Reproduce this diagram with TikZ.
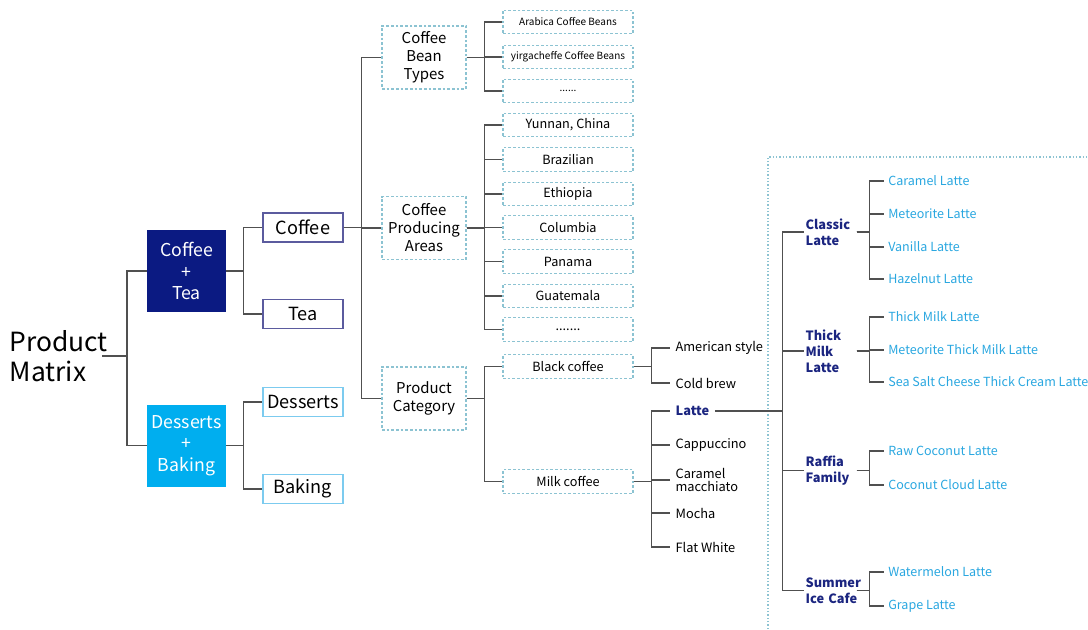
\documentclass[tikz,border=0pt]{standalone}
\usepackage{fontspec}
\setmainfont{Noto Sans CJK SC}
\definecolor{navy}{HTML}{0B1A82}
\definecolor{sky}{HTML}{00AEEF}
\definecolor{leafblue}{HTML}{2AA7E0}
\definecolor{grpnavy}{HTML}{1B2580}
\definecolor{lnc}{HTML}{505050}
\definecolor{dashc}{HTML}{8CC3D2}
\definecolor{boxnavy}{HTML}{5B5B9E}
\definecolor{boxsky}{HTML}{7CCBEF}
\tikzset{
 conn/.style={draw=lnc, line width=0.9pt},
 bigbox/.style={minimum width=59.25pt, minimum height=61.5pt, inner sep=0pt, align=center, text=white, font=\fontsize{13.3}{16}\selectfont},
 midbox/.style={draw, line width=0.8pt, minimum width=60pt, minimum height=21.75pt, inner sep=0pt, font=\fontsize{13.6}{16}\selectfont},
 dbox/.style={draw=dashc, line width=0.8pt, dash pattern=on 2pt off 1.5pt, inner sep=0pt},
 catbox/.style={dbox, minimum width=63pt, minimum height=47.25pt, align=center, font=\fontsize{11.2}{13.5}\selectfont},
 leafbox/.style={dbox, minimum width=97.5pt, minimum height=17.6pt, font=\fontsize{9.5}{12}\selectfont},
 smallleaf/.style={leafbox, font=\fontsize{7.5}{10}\selectfont},
 drink/.style={anchor=west, inner xsep=4pt, inner ysep=1pt, align=left, font=\fontsize{9.6}{9.5}\selectfont},
 group/.style={anchor=west, inner xsep=1pt, inner ysep=0pt, text width=37pt, align=left, text=grpnavy, font=\bfseries\fontsize{9.6}{12}\selectfont},
 flavour/.style={anchor=west, inner xsep=3pt, inner ysep=1pt, text=leafblue, font=\fontsize{9.4}{12}\selectfont},
 region/.style={draw=dashc, line width=0.8pt, dash pattern=on 1pt off 1.5pt},
}
\begin{document}
\begin{tikzpicture}[x=0.75pt,y=-0.75pt]
\useasboundingbox (0,0) rectangle (1088,629);

% root
\node (pm) [anchor=east, inner sep=0pt, text width=69pt, align=left, font=\fontsize{19.8}{23}\selectfont] at (102,356) {Product\\Matrix};

% level 1
\node (ct) [bigbox, fill=navy] at (186.5,271) {Coffee\\+\\Tea};
\node (db) [bigbox, fill=sky] at (186.5,445.5) {Desserts\\+\\Baking};

% level 2
\node (coffee) [midbox, draw=boxnavy] at (303,227.5) {Coffee};
\node (tea) [midbox, draw=boxnavy] at (303,314) {Tea};
\node (desserts) [midbox, draw=boxsky] at (303,402) {Desserts};
\node (baking) [midbox, draw=boxsky] at (303,489) {Baking};

% level 3
\node (cbt) [catbox] at (424,57.5) {Coffee\\Bean\\Types};
\node (cpa) [catbox] at (424,228) {Coffee\\Producing\\Areas};
\node (pc) [catbox] at (424,398.5) {Product\\Category};

% level 4
\node (b1) [smallleaf] at (568,22) {Arabica Coffee Beans};
\node (b2) [smallleaf] at (568,57) {yirgacheffe Coffee Beans};
\node (b3) [smallleaf] at (568,91) {......};
\node (a1) [leafbox] at (568,125) {Yunnan, China};
\node (a2) [leafbox] at (568,159.5) {Brazilian};
\node (a3) [leafbox] at (568,194) {Ethiopia};
\node (a4) [leafbox] at (568,227.5) {Columbia};
\node (a5) [leafbox] at (568,261.5) {Panama};
\node (a6) [leafbox] at (568,296) {Guatemala};
\node (a7) [leafbox] at (568,329.5) {.......};
\node (black) [leafbox] at (568,366.5) {Black coffee};
\node (milk) [leafbox] at (568,481.5) {Milk coffee};

% drinks
\node (am) [drink] at (670,348) {American style};
\node (cb) [drink] at (670,383) {Cold brew};
\node (latte) [drink, text=grpnavy, font=\bfseries\fontsize{9.6}{12}\selectfont] at (670,411) {Latte};
\node (cap) [drink] at (670,445) {Cappuccino};
\node (cm) [drink] at (670,480) {Caramel\\macchiato};
\node (mo) [drink] at (670,513) {Mocha};
\node (fw) [drink] at (670,547) {Flat White};

% latte region
\draw[region] (768,629) -- (768,157) -- (1088,157);
\coordinate (lt) at (782.5,411);
\node (g1) [group] at (804,232) {Classic\\Latte};
\node (g2) [group] at (804,351) {Thick\\Milk\\Latte};
\node (g3) [group] at (804,470.5) {Raffia\\Family};
\node (g4) [group] at (804,590.5) {Summer\\Ice~Cafe};

\node (f1) [flavour] at (884,181) {Caramel Latte};
\node (f2) [flavour] at (884,214) {Meteorite Latte};
\node (f3) [flavour] at (884,247) {Vanilla Latte};
\node (f4) [flavour] at (884,279) {Hazelnut Latte};
\node (f5) [flavour] at (884,317) {Thick Milk Latte};
\node (f6) [flavour] at (884,350) {Meteorite Thick Milk Latte};
\node (f7) [flavour] at (884,382) {Sea Salt Cheese Thick Cream Latte};
\node (f8) [flavour] at (884,451) {Raw Coconut Latte};
\node (f9) [flavour] at (884,485) {Coconut Cloud Latte};
\node (f10) [flavour] at (884,572) {Watermelon Latte};
\node (f11) [flavour] at (884,606) {Grape Latte};

% connectors
\foreach \c in {ct,db} \draw[conn] (pm.east) -- ++(25,0) |- (\c.west);
\foreach \c in {coffee,tea} \draw[conn] (ct.east) -- ++(17,0) |- (\c.west);
\foreach \c in {desserts,baking} \draw[conn] (db.east) -- ++(17,0) |- (\c.west);
\foreach \c in {cbt,cpa,pc} \draw[conn] (coffee.east) -- ++(18,0) |- (\c.west);
\foreach \c in {b1,b2,b3} \draw[conn] (cbt.east) -- ++(18,0) |- (\c.west);
\foreach \c in {a1,a2,a3,a4,a5,a6,a7} \draw[conn] (cpa.east) -- ++(18,0) |- (\c.west);
\foreach \c in {black,milk} \draw[conn] (pc.east) -- ++(18,0) |- (\c.west);
\foreach \c in {am,cb} \draw[conn] (black.east) -- ++(18,0) |- (\c.west);
\foreach \c in {latte,cap,cm,mo,fw} \draw[conn] (milk.east) -- ++(18,0) |- (\c.west);
\draw[conn] (latte.east) -- (lt);
\foreach \c in {g1,g2,g3,g4} \draw[conn] (lt) |- (\c.west);
\foreach \c in {f1,f2,f3,f4} \draw[conn] (g1.east) -- ++(13,0) |- (\c.west);
\foreach \c in {f5,f6,f7} \draw[conn] (g2.east) -- ++(13,0) |- (\c.west);
\foreach \c in {f8,f9} \draw[conn] (g3.east) -- ++(13,0) |- (\c.west);
\foreach \c in {f10,f11} \draw[conn] (g4.east) -- ++(13,0) |- (\c.west);
\end{tikzpicture}
\end{document}
